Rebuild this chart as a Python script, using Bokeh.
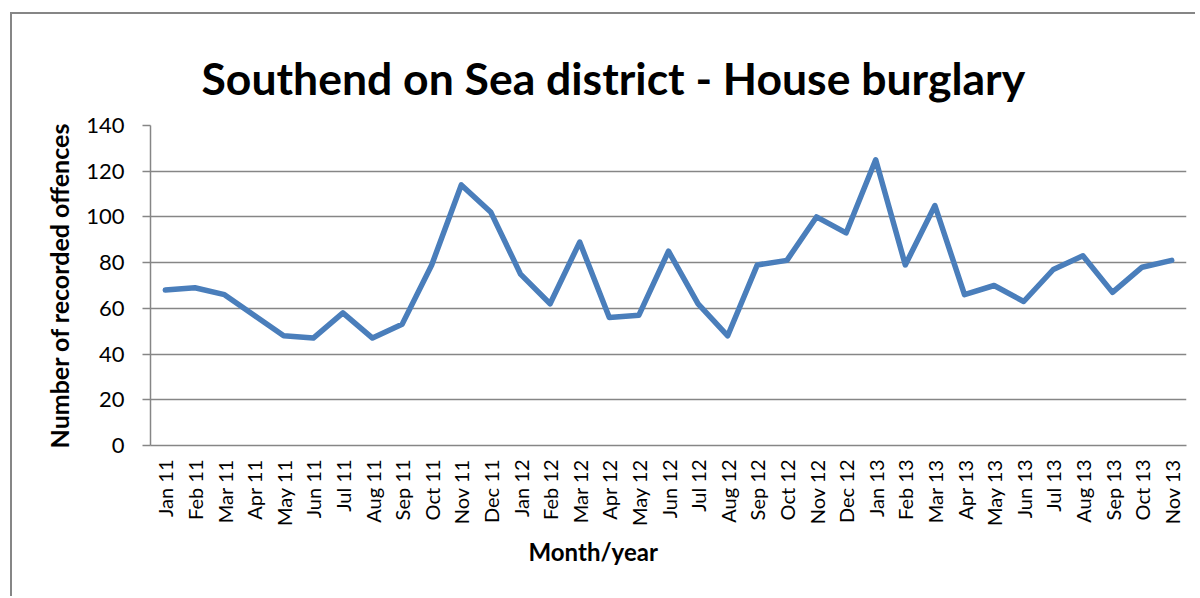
from bokeh.plotting import figure
from bokeh.models import FactorRange, Range1d, Title, SingleIntervalTicker
from bokeh.embed import file_html
from bokeh.resources import INLINE

months = ["Jan 11", "Feb 11", "Mar 11", "Apr 11", "May 11", "Jun 11", "Jul 11", "Aug 11",
          "Sep 11", "Oct 11", "Nov 11", "Dec 11", "Jan 12", "Feb 12", "Mar 12", "Apr 12",
          "May 12", "Jun 12", "Jul 12", "Aug 12", "Sep 12", "Oct 12", "Nov 12", "Dec 12",
          "Jan 13", "Feb 13", "Mar 13", "Apr 13", "May 13", "Jun 13", "Jul 13", "Aug 13",
          "Sep 13", "Oct 13", "Nov 13"]
offences = [68, 69, 66, 57, 48, 47, 58, 47, 53, 79, 114, 102, 75, 62, 89, 56, 57, 85, 62, 48,
            79, 81, 100, 93, 125, 79, 105, 66, 70, 63, 77, 83, 67, 78, 81]

FONT = "Lato"
GRAY = "#868686"

p = figure(width=1185, height=584, x_range=FactorRange(*months, range_padding=0),
           y_range=Range1d(0, 140), output_backend="svg", toolbar_location=None,
           min_border_left=138, min_border_right=11, min_border_bottom=153, min_border_top=111)
p.styles = {"border-left": "2px solid " + GRAY, "border-top": "2px solid " + GRAY,
            "margin-left": "10px", "margin-top": "12px"}

p.title.text = "Southend on Sea district - House burglary"
p.title.text_font = FONT
p.title.text_font_size = "44.5px"
p.title.text_font_style = "bold"
p.title.align = "left"
p.title.vertical_align = "top"
p.title.text_color = "#000000"
p.title.offset = 51
p.title.standoff = 40

p.outline_line_color = None
p.xgrid.grid_line_color = None
p.ygrid.grid_line_color = GRAY
p.ygrid.grid_line_width = 1.5

p.yaxis.ticker = SingleIntervalTicker(interval=20)
p.yaxis.minor_tick_line_color = None
p.yaxis.major_tick_out = 8
p.yaxis.major_tick_in = 0
p.yaxis.axis_line_color = GRAY
p.yaxis.axis_line_width = 1.5
p.yaxis.major_tick_line_color = GRAY
p.yaxis.major_tick_line_width = 1.5
p.yaxis.major_label_text_font = FONT
p.yaxis.major_label_text_font_size = "22px"
p.yaxis.major_label_text_color = "#000000"
p.yaxis.major_label_standoff = 18
p.yaxis.axis_label = "Number of recorded offences"
p.yaxis.axis_label_text_font = FONT
p.yaxis.axis_label_text_font_size = "25px"
p.yaxis.axis_label_text_font_style = "bold"
p.yaxis.axis_label_text_color = "#000000"
p.yaxis.axis_label_standoff = 9

p.xaxis.axis_line_color = GRAY
p.xaxis.axis_line_width = 1.5
p.xaxis.major_tick_line_color = None
p.xaxis.minor_tick_line_color = None
p.xaxis.major_label_orientation = 1.5708
p.xaxis.major_label_text_font = FONT
p.xaxis.major_label_text_font_size = "20px"
p.xaxis.major_label_text_color = "#000000"
p.xaxis.major_label_standoff = 8

p.line(months, offences, line_color="#4a7ebb", line_width=5.5, line_join="round", line_cap="round")

p.add_layout(Title(text="Month/year", text_font=FONT, text_font_size="24px",
                   text_font_style="bold", align="left", vertical_align="bottom",
                   offset=378, standoff=10, text_color="#000000"), "below")

open("out.html", "w").write(file_html(p, INLINE))
